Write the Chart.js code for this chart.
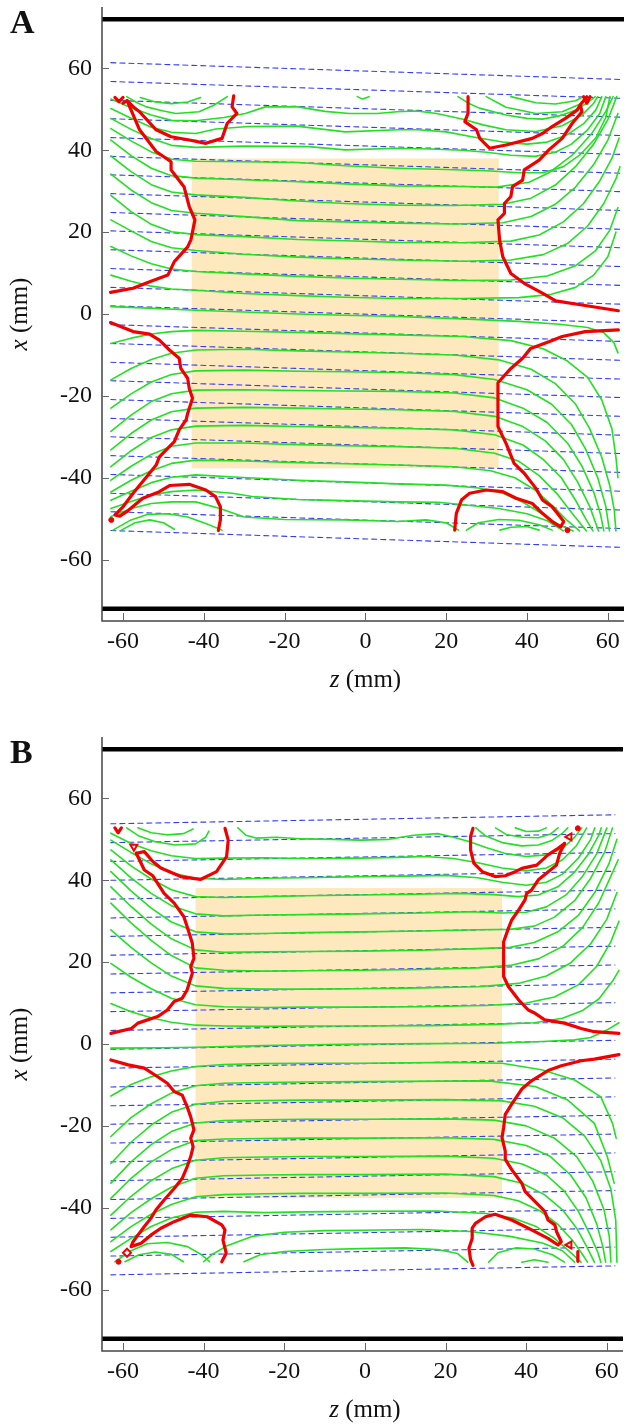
<!DOCTYPE html>
<html>
<head>
<meta charset="utf-8">
<script src="https://cdn.jsdelivr.net/npm/chart.js@4.4.1/dist/chart.umd.min.js"></script>
<style>
  html, body { margin: 0; padding: 0; background: #fff; }
  body { width: 629px; height: 1427px; position: relative; overflow: hidden; }
  .panel { position: absolute; left: 0; }
  #wrapA { top: 0; }
  #wrapB { top: 730px; }
</style>
</head>
<body>
<div class="panel" id="wrapA"><canvas id="chartA" width="629" height="697"></canvas></div>
<div class="panel" id="wrapB"><canvas id="chartB" width="629" height="697"></canvas></div>
<script>
// axes
const zTicks = [-60, -40, -20, 0, 20, 40, 60];
const xTicks = [-60, -40, -20, 0, 20, 40, 60];
const zRange = [-65.2, 64];
const xRange = [-75, 75];
const walls = [72, -72];

// sample block [zMin, zMax, xMin, xMax]
const blockA = [-43, 33, -37.7, 38];
const blockB = [-42, 34, -37.6, 38.1];

// reference lines: x at left end and at right end
const blueEndsA = [-63, 63];
const blueLeftA = [61.4, 56.8, 52.2, 47.7, 43.1, 38.5, 34.0, 29.4, 24.8, 20.3, 15.7, 11.1, 6.5, 2.0, -2.6, -7.2, -11.8, -16.3, -20.9, -25.5, -30.0, -34.6, -39.2, -43.8, -48.3, -52.9];
const blueRightA = [57.3, 52.7, 48.1, 43.6, 39.0, 34.4, 29.9, 25.3, 20.7, 16.2, 11.6, 7.0, 2.4, -2.1, -6.7, -11.3, -15.9, -20.4, -25.0, -29.6, -34.1, -38.7, -43.3, -47.9, -52.4, -57.0];
const blueEndsB = [-63, 62];
const blueLeftB = [53.8, 49.2, 44.6, 40.0, 35.4, 30.8, 26.3, 21.7, 17.1, 12.5, 7.9, 3.3, -1.3, -5.9, -10.5, -15.1, -19.6, -24.2, -28.8, -33.4, -38.0, -42.6, -47.2, -51.8, -56.4];
const blueRightB = [56.0, 51.4, 46.8, 42.2, 37.6, 33.0, 28.5, 23.9, 19.3, 14.7, 10.1, 5.5, 0.9, -3.7, -8.3, -12.9, -17.4, -22.0, -26.6, -31.2, -35.8, -40.4, -45.0, -49.6, -54.2];

// ---- panel A contours [z, x] ----
const arcsA = [
  [[-55.7,52.9],[-52,51.8],[-48,51.4],[-44,51.8],[-40.8,52.9]],
  [[-59.1,53.1],[-56.5,51.6],[-54.2,50.6],[-50,49.6],[-46.9,49.0],[-41.2,49.4],[-37.5,51],[-34.2,53.1]],
  [[-2,53.1],[-0.7,52.5],[0.9,53.1]],
  [[22.9,53.1],[25.5,51.5],[28.2,50.3],[34.8,48.6],[40,47.8],[43.8,47.6],[48,48.4],[52,49.8],[54.8,51.5],[56.9,53.1]],
  [[29.9,53.1],[34.8,50.5],[42.2,49.0],[48.7,49.4],[53.6,51.5],[55.7,53.1]],
  [[36,53.1],[42.2,51.6],[47,51.3],[52,52.1],[54,53.1]],
  [[-60.4,-52.8],[-57,-51.0],[-53.4,-50.3],[-50,-51.0],[-47.3,-52.6]],
  [[-62.5,-52.8],[-58,-50.3],[-54,-49.0],[-49,-48.8],[-44,-49.6],[-39.5,-51.2],[-35.5,-52.8]],
  [[25,-52.8],[28,-51.0],[33,-50.2],[38,-50.4],[43,-51.5],[46.2,-52.8]],
  [[33.3,-52.8],[36,-52.1],[40,-51.9],[43,-52.8]]
];
const upperA = [
  [[-63,52.5],[-58,50.4],[-53,48.6],[-48,47.3],[-42,47.2],[-35,48.0],[-29.7,49.0],[-24.8,50.6],[-16.7,50.6],[-10,49.5],[-4,49.0],[2.9,49.0],[7.8,49.4],[12.7,49.6],[17.6,49.0],[24.2,47.6],[29.1,46.2],[34.8,45.0],[42.2,44.6],[48.7,46.0],[53.6,48.6],[56.5,51.5],[57.5,53.1]],
  [[-63,50.2],[-58,47.8],[-53,45.6],[-48,44.4],[-42,44.1],[-37,45.2],[-29,45.8],[-17,45.9],[-5,44.5],[8,45.0],[13,45.0],[20,44.5],[27,43.2],[34,42.0],[40,41.5],[45,42],[50,43.8],[54,46.5],[57,49.8],[58.5,53.1]],
  [[-63,47.8],[-58,45.1],[-53,42.9],[-48,41.2],[-42,40.7],[-30,41.0],[-14,40.9],[-5,40.1],[8,40.5],[16,40.3],[24,40.0],[30,39.5],[36,38.8],[42,38.5],[47,39.5],[51,41.5],[55,45.0],[58,49.0],[59.5,53.1]],
  [[-63,45.3],[-58,42.3],[-53,39.6],[-48,37.8],[-42,37.3],[-30,37.2],[-16.7,37.0],[-5,36.2],[8,35.6],[20,35.3],[30,35.0],[38,34.5],[44,34.5],[49,36],[53,38.8],[57,43],[59.5,48],[60.5,53.1]],
  [[-63,42.5],[-58,38.7],[-53,35.6],[-48,33.8],[-42,33.2],[-30,32.8],[-16.7,32.3],[-5,31.8],[8,31.3],[20,31.2],[32.4,31.0],[40.5,32.2],[45.4,34.5],[51.2,38.8],[56.1,44.2],[59.5,49.5],[61.3,53.1]],
  [[-63,38.6],[-58,34.8],[-53,31.6],[-48,29.8],[-42,29.1],[-30,28.5],[-16.7,27.6],[-5,27.0],[8,26.6],[22,26.5],[34,26.8],[41,28.3],[47,31.5],[52,36],[56.5,41.5],[60,47.5],[62.2,53.1]],
  [[-63,34.2],[-58,30.3],[-53,27.2],[-48,25.3],[-42,24.6],[-30,23.8],[-16.7,22.8],[-5,22.5],[8,22.2],[22,22.0],[34,22.3],[41,23.8],[47,26.8],[52,31],[56.5,36.5],[60,42.5],[62.5,49]],
  [[-63,29.0],[-58,25.0],[-53,21.9],[-48,20.1],[-42,19.4],[-30,18.9],[-16.7,18.2],[-5,17.9],[8,17.5],[24,17.4],[36,17.8],[43,19.3],[49,22.5],[54,27],[58,32.5],[61,38],[62.8,43]],
  [[-63,23.0],[-58,20.3],[-53,17.7],[-48,16.2],[-42,15.5],[-30,14.6],[-16.7,13.9],[-5,13.5],[8,13.2],[24,12.9],[36,13.2],[44,14.5],[50,17.2],[55,21.5],[59,27],[62,33],[63,36]],
  [[-63,16.5],[-58,14.2],[-53,12.3],[-48,11.0],[-42,10.4],[-30,9.8],[-16.7,9.2],[-5,8.8],[8,8.5],[24,8.2],[36,8.3],[45,9.3],[52,11.8],[57,15.5],[60.5,20.5],[62.5,26]],
  [[-63,9.5],[-58,8.0],[-53,6.8],[-48,6.1],[-42,5.8],[-30,5.0],[-16.7,4.5],[-5,4.1],[8,3.8],[24,3.8],[38,4.0],[46,4.8],[52,6.5],[56.5,9.5],[60,14],[62,20]],
  [[-63,1.8],[-55,1.5],[-42,0.9],[-30,0.5],[-16.7,0.0],[-5,-0.3],[8,-0.6],[24,-1.2],[38,-1.8],[48,-2.5],[55,-3.3],[59,-4.6],[61.5,-7],[62.5,-9.5]]
];
const lowerA = [
  [[-63,-7.2],[-58,-5.9],[-53,-4.9],[-48,-4.3],[-42,-4.0],[-30,-4.2],[-16.7,-4.5],[-5,-4.8],[8,-5.1],[24,-5.5],[36,-6.5],[44,-8.5],[50,-11.5],[55,-15.5],[58.5,-21],[61,-28],[62,-35],[62.5,-40]],
  [[-63,-16.1],[-58,-13.3],[-53,-11.1],[-48,-9.6],[-42,-8.8],[-30,-8.6],[-16.7,-9.0],[-5,-9.3],[8,-9.6],[22,-10.0],[33,-11.2],[41,-13.5],[47,-17],[52,-22],[55.5,-28],[58.5,-35],[60.5,-42],[61.6,-48],[62,-53]],
  [[-63,-23.0],[-58,-19.5],[-53,-16.6],[-48,-14.8],[-42,-13.9],[-30,-13.7],[-16.7,-14.0],[-5,-14.1],[8,-14.3],[22,-14.8],[32,-16],[40,-18.5],[46,-22],[51,-27],[54.5,-33],[57.5,-40],[59.5,-47],[60.4,-53]],
  [[-63,-28.7],[-58,-24.7],[-53,-21.4],[-48,-19.5],[-42,-18.6],[-30,-18.5],[-16.7,-18.7],[-5,-18.8],[8,-18.9],[22,-19.3],[32,-20.5],[39,-23],[45,-26.5],[50,-31.5],[53.5,-37],[56.5,-43.5],[58.2,-49],[59,-53]],
  [[-63,-33.2],[-58,-29.2],[-53,-25.9],[-48,-23.9],[-42,-23.0],[-30,-22.8],[-16.7,-23.0],[-5,-23.2],[8,-23.4],[22,-23.8],[32,-25],[39,-27.5],[44.5,-31],[49,-35.5],[52.5,-41],[55.5,-47],[57.7,-53]],
  [[-63,-37.3],[-58,-33.4],[-53,-30.2],[-48,-28.3],[-42,-27.4],[-30,-27.2],[-16.7,-27.5],[-5,-27.7],[8,-27.9],[22,-28.3],[32,-29.5],[39,-32],[44,-35.5],[48.5,-40],[52,-45.5],[54.5,-50],[56.3,-53]],
  [[-63,-40.6],[-58,-37.2],[-53,-34.3],[-48,-32.3],[-42,-31.5],[-30,-31.5],[-16.7,-31.9],[-5,-32.2],[8,-32.4],[22,-32.8],[32,-34],[38,-36],[43,-39.5],[47.5,-44],[51,-48.5],[54.7,-53]],
  [[-63,-43.5],[-58,-40.6],[-53,-38.3],[-48,-36.5],[-42,-35.7],[-30,-35.9],[-16.7,-36.3],[-5,-36.6],[8,-36.9],[22,-37.3],[31,-38.3],[37,-40],[42,-43],[46.5,-47],[50,-50.5],[53,-53]],
  [[-63,-45.5],[-58,-43.3],[-53,-41.2],[-48,-39.9],[-42,-39.3],[-31.4,-39.9],[-16.7,-40.6],[-5,-41.0],[8,-41.5],[20,-41.8],[28,-42.5],[34,-43.8],[39,-46],[44,-49],[48,-51.5],[51.4,-53]],
  [[-63,-47.5],[-58,-45.8],[-53,-44.2],[-48,-43.4],[-42,-43.0],[-33,-43.8],[-28,-44.6],[-16.7,-45.3],[-5,-45.6],[8,-45.9],[18,-46.0],[26,-46.8],[33,-47.5],[40,-48.8],[45,-50.5],[49,-53]],
  [[-63,-49.5],[-58,-47.5],[-53,-46.3],[-48,-45.9],[-42,-45.9],[-36,-47.5],[-30,-49.6],[-20,-50.2],[-5,-50.3],[8,-50.7],[15,-50.3],[20,-51],[23,-52.8]]
];
const redA = [
  [[-60,51.5],[-59,52.1],[-57.1,50.3],[-55.9,49.4],[-51.8,45.0],[-48.1,43.3],[-43.6,42.5],[-39.5,41.7],[-35.5,42.9],[-34.2,46.6],[-31.8,49.0],[-33,50.6],[-32.6,53.3]],
  [[-59,52.1],[-55.9,45.0],[-51.8,39.7],[-48.1,37.2],[-48.1,35.2],[-44.9,31.1],[-43.6,26.2],[-42.2,23.0],[-43.2,18.1],[-44,16.4],[-47.3,12.8],[-48.9,9.5],[-53.4,7.9],[-57.5,6.3],[-63.1,5.3]],
  [[-62,52.9],[-61,51.9],[-60,52.9]],
  [[-63.1,-2.1],[-57.5,-4.3],[-53.4,-4.9],[-51,-6.4],[-48.5,-8.8],[-46.1,-10.8],[-45.7,-13.3],[-44,-15.7],[-43.6,-18.2],[-42.8,-20.6],[-44,-24.3],[-44.4,-25.9],[-46.1,-28.3],[-47.3,-31.2],[-49.3,-33.2],[-51,-34.9],[-51.8,-36.9],[-54.2,-39.8],[-57.5,-43.8],[-60,-47.1],[-62,-49.1],[-60.8,-49.4],[-59.1,-48.3],[-55.1,-45.0],[-51,-43.4],[-48.5,-41.9],[-43.6,-41.6],[-39.5,-43.0],[-37.1,-44.6],[-35.9,-47.1],[-35.9,-50.3],[-36.4,-52.9]],
  [[25.4,53.1],[25.4,49.0],[24.6,47.0],[27.5,45.0],[28.3,42.9],[30.7,40.5],[34.8,41.3],[41.3,42.9],[43.8,44.1],[46.2,45.8],[49.5,47.8],[52.4,49.8],[53.2,51.1],[54.8,53.1]],
  [[54,53.1],[54.8,51.5],[55.6,53.1]],
  [[53.2,51.1],[53.6,49.4],[51.2,46.6],[48.7,42.9],[45.4,40.1],[43.0,37.6],[39.3,35.2],[38.9,32.7],[36.4,31.1],[36.0,28.7],[34.4,27.0],[34.4,24.6],[32.8,23.0],[33.2,18.1],[34.0,14.0],[36.0,9.9],[39.3,7.5],[43.8,5.1],[47.1,3.2],[53.6,2.2],[62.6,0.8]],
  [[62.6,-3.9],[54.4,-4.3],[48.7,-5.5],[45.4,-6.8],[40.9,-8.4],[38.9,-10.8],[36.0,-13.3],[32.8,-16.8],[32.8,-22.6],[32.8,-27.5],[34.8,-31.6],[36.8,-36.5],[39.3,-38.9],[42.2,-42.6],[43.8,-45.4],[46.2,-47.1],[47.5,-48.7],[49.1,-50.7],[48.3,-52.0],[46.2,-50.7],[43.8,-48.7],[41.3,-46.3],[37.3,-45.0],[34.0,-43.4],[29.9,-43.0],[25.8,-43.8],[23.8,-45.4],[22.5,-48.7],[22.1,-52.8]]
];
const redDotsA = [[-62.9,-50.3],[50,-52.8]];

// ---- panel B contours [z, x] ----
const arcsB = [
  [[-56.3,52.8],[-53,51.6],[-49,51.1],[-45,51.4],[-42.6,52.5]],
  [[-59.1,52.8],[-56,50.8],[-52,49.4],[-47,48.6],[-42,48.9],[-39.5,50.5],[-38.7,52.0]],
  [[-59.5,-53.2],[-56,-51.5],[-52,-50.8],[-48,-51.4],[-45,-53.2]],
  [[-62,-53.2],[-58,-50.5],[-54,-48.8],[-49,-48.5],[-44,-49.5],[-40.5,-51.5],[-38.5,-53.2]],
  [[27.5,52.8],[30,50.8],[34,49.2],[38.9,48.4],[43,48.6],[46.5,49.8],[49,51.5],[50.3,52.8]],
  [[32.4,52.8],[35,51.2],[39,50.5],[43,50.4],[46,51.3],[47.9,52.8]],
  [[37.3,52.8],[40,51.9],[43,52.0],[45,52.8]],
  [[30.7,-53.3],[33,-51.0],[37.5,-49.8],[42,-50.1],[46.5,-51.5],[49.5,-53.3]],
  [[38.9,-53.3],[42,-52.7],[45.4,-53.3]]
];
const upperB = [
  [[-31.5,52.8],[-29.5,51],[-27,50.3],[-22,50.5],[-15,50.1],[-8,50.0],[-1,49.8],[6,50.0],[12,51.0],[18,51.4],[22,50.5],[26,49.4],[30,48.0],[35,46.5],[40,45.8],[45,46.2],[49,47.8],[52,50.5],[53.8,52.8]],
  [[-63,51.5],[-58,49.0],[-53,47.2],[-48,46.0],[-42,45.3],[-35,45.4],[-25,45.5],[-15,45.3],[-1,45.4],[8,45.6],[15,45.8],[22,45.3],[28,44.3],[34,43.0],[40,42.3],[45,43.0],[49,45.0],[52.5,48.5],[55,52.8]],
  [[-63,49.8],[-58,46.8],[-53,44.0],[-48,41.8],[-42,40.5],[-35,40.2],[-25,40.5],[-15,40.6],[-1,40.9],[10,41.0],[20,41.2],[28,40.6],[34,39.5],[40,38.8],[45,39.5],[49,41.5],[53,45.5],[56,50],[57,52.8]],
  [[-63,47.4],[-58,43.5],[-53,40.3],[-48,37.7],[-42,36.0],[-35,35.8],[-25,36.0],[-15,36.2],[-1,36.4],[12,36.6],[24,36.8],[32,36.5],[38,36.0],[43,36.4],[48,38.5],[52,42.0],[55.5,46.5],[58,51],[58.6,52.8]],
  [[-63,45.0],[-58,40.6],[-53,36.8],[-48,33.8],[-42,31.8],[-35,31.3],[-25,31.5],[-15,31.6],[-1,31.8],[14,32.0],[26,32.3],[34,32.0],[40,32.2],[45,33.5],[50,36.5],[54,41],[57.5,46.5],[60,52.8]],
  [[-63,42.1],[-58,37.4],[-53,33.2],[-48,29.8],[-42,27.4],[-35,26.9],[-25,27.0],[-15,27.2],[-1,27.4],[14,27.6],[28,27.9],[36,28.0],[42,28.8],[47,31.0],[52,35],[56,40.5],[59.5,47],[61.4,52.8]],
  [[-63,38.4],[-58,33.6],[-53,29.3],[-48,25.7],[-42,23.0],[-35,22.4],[-25,22.5],[-15,22.6],[-1,22.7],[14,22.9],[28,23.3],[36,23.6],[42,24.8],[48,27.5],[53,31.5],[57,37],[60.5,44],[62.5,50]],
  [[-63,34.4],[-58,29.6],[-53,25.3],[-48,21.6],[-42,18.6],[-35,18.0],[-25,17.8],[-15,17.9],[-1,18.0],[14,18.2],[28,18.6],[36,19.2],[43,20.8],[49,23.8],[54,28.5],[58,34.5],[61,41],[62.8,45]],
  [[-63,27.9],[-58,23.6],[-53,19.8],[-48,16.6],[-42,14.2],[-35,13.6],[-25,13.4],[-15,13.4],[-1,13.5],[14,13.7],[28,14.0],[38,14.8],[45,16.6],[51,19.8],[56,24.5],[60,30.5],[62.5,37]],
  [[-63,19.7],[-58,16.3],[-53,13.5],[-48,11.2],[-42,9.6],[-35,9.1],[-25,8.9],[-15,9.0],[-1,9.0],[14,9.1],[30,9.4],[40,10.0],[47,11.5],[53,14.5],[57.5,19],[61,25],[63,30]],
  [[-63,9.9],[-58,7.9],[-53,6.4],[-48,5.3],[-42,4.6],[-35,4.4],[-25,4.3],[-15,4.4],[-1,4.4],[16,4.5],[32,4.8],[42,5.2],[49,6.3],[54,8.2],[58,11],[61.5,15.5],[63,18]],
  [[-63,-1.0],[-50,-0.9],[-42,-0.8],[-25,-0.4],[-1,0.0],[16,0.1],[32,0.2],[44,0.6],[52,1.0],[56,1.6],[60,3.4],[63,5.2]]
];
const lowerB = [
  [[-63,-12.7],[-58,-9.9],[-53,-8.0],[-48,-6.6],[-42,-5.5],[-35,-5.0],[-25,-4.8],[-15,-4.7],[-1,-4.7],[22.5,-4.5],[34,-4.7],[43.8,-6.3],[52,-8.8],[58.5,-12.9],[61.4,-19.4],[62.3,-23]],
  [[-63,-22.6],[-58,-18.0],[-53,-14.6],[-48,-12.0],[-42,-10.2],[-35,-9.6],[-25,-9.4],[-15,-9.3],[-1,-9.2],[30.7,-9.0],[42.2,-10.4],[50.3,-13.7],[56.9,-19.4],[60.1,-27.5],[61.8,-34]],
  [[-63,-29.2],[-58,-24.0],[-53,-19.8],[-48,-16.7],[-42,-14.7],[-35,-14.0],[-25,-13.8],[-15,-13.7],[-1,-13.7],[20,-13.6],[34,-13.9],[42,-15.2],[49,-18],[54.5,-22.5],[58.5,-28.5],[61,-35.5],[62.2,-43],[62.5,-53.3]],
  [[-63,-34.0],[-58,-28.8],[-53,-24.6],[-48,-21.4],[-42,-19.3],[-35,-18.7],[-25,-18.5],[-15,-18.4],[-1,-18.4],[20,-18.3],[32,-18.6],[40,-20],[47,-23],[52.5,-27.5],[56.5,-33.5],[59.3,-40.5],[60.6,-47],[61,-53.3]],
  [[-63,-37.7],[-58,-32.8],[-53,-28.8],[-48,-25.8],[-42,-23.6],[-35,-23.2],[-25,-23.1],[-15,-23.0],[-1,-23.0],[20,-22.9],[32,-23.3],[40,-24.8],[46,-27.5],[51,-32],[54.8,-37.5],[57.5,-44],[59,-49.5],[59.7,-53.3]],
  [[-63,-41.8],[-58,-37.2],[-53,-33.4],[-48,-30.5],[-42,-28.4],[-35,-27.8],[-25,-27.6],[-15,-27.5],[-1,-27.5],[20,-27.4],[32,-27.9],[39,-29.3],[45,-32],[49.5,-36],[53,-41],[55.8,-46.5],[57.8,-51],[58.5,-53.3]],
  [[-63,-45.4],[-58,-41.2],[-53,-37.8],[-48,-35.0],[-42,-32.8],[-35,-32.2],[-25,-32.0],[-15,-31.9],[-1,-31.9],[20,-31.8],[32,-32.4],[39,-34],[44.5,-36.8],[49,-40.5],[52.5,-45],[55,-49.5],[56.9,-53.3]],
  [[-63,-48.3],[-58,-44.6],[-53,-41.6],[-48,-39.2],[-42,-37.3],[-35,-36.8],[-25,-36.6],[-15,-36.5],[-1,-36.5],[20,-36.4],[32,-37.0],[38,-38.3],[43.5,-40.8],[48,-44.2],[51.5,-48],[54,-51.5],[55.2,-53.3]],
  [[-63,-50.7],[-58,-47.5],[-53,-44.6],[-48,-42.5],[-42,-41.1],[-35,-40.9],[-25,-41.2],[-15,-41.0],[-1,-40.9],[18,-40.8],[30,-41.4],[37,-42.6],[42.5,-44.6],[47,-47.5],[50.5,-50.5],[53.6,-53.3]],
  [[-40,-53.2],[-38,-51.5],[-34,-49.2],[-28,-47.0],[-20,-46.0],[-10,-45.6],[-1,-45.5],[14,-45.3],[26,-45.8],[36,-47.0],[44,-48.6],[49,-50.5],[52,-53.3]],
  [[-30,-53.2],[-26,-51.5],[-20,-50.7],[-10,-50.2],[-1,-50.0],[10,-49.8],[18,-50.2],[23,-51.2],[25.5,-53.3]]
];
const redB = [
  [[-62,52.8],[-61.2,51.6],[-60.4,52.8]],
  [[-56.7,46.6],[-54.7,47.0],[-52.6,44.6],[-50.6,43.0],[-45.7,40.9],[-40.8,40.2],[-36.8,42.1],[-34.3,45.8],[-33.9,49.8],[-34.7,52.7]],
  [[-56.7,46.6],[-54.7,42.5],[-52.6,41.1],[-49.8,36.8],[-47.3,34.4],[-44.9,31.1],[-44.1,28.7],[-42.8,24.6],[-42.4,20.9],[-43.2,18.9],[-42.8,17.3],[-44.1,13.2],[-45.3,11.2],[-47.3,10.4],[-49,8.3],[-51.4,6.7],[-56.3,5.1],[-57.9,3.8],[-63,2.6]],
  [[-63,-3.9],[-58.7,-5.1],[-54.7,-5.9],[-51.4,-8],[-49,-9.6],[-47.3,-11.6],[-45.3,-12.5],[-44.1,-15.3],[-43.2,-17.8],[-42.4,-21.0],[-43.2,-23.0],[-42.6,-25.1],[-43.2,-27.5],[-44.1,-30.0],[-45.3,-32.8],[-47.3,-35.3],[-49.8,-38.1],[-51.8,-40.5],[-53.1,-42.6],[-54.7,-44.6],[-56.3,-46.7],[-57.5,-48.3],[-58,-49.5],[-55.5,-48.7],[-53.1,-46.7],[-50.6,-45.0],[-47.3,-43.4],[-43.2,-41.8],[-39.1,-42.2],[-35.5,-44.2],[-34.7,-45.4],[-35.2,-47.9],[-34.4,-51.1],[-35.5,-53.2]],
  [[49.5,49.0],[47.9,47.8],[45.4,46.2],[42.6,43.7],[38.9,42.9],[37.3,42.1],[34.8,41.1],[32.3,40.9],[29.1,42.1],[27.0,44.2],[26.2,47.4],[26.2,50.7],[26.8,52.7]],
  [[49.5,49.0],[48.3,46.6],[47.5,43.7],[45,41.7],[43,40.1],[41.3,37.6],[40.1,36.8],[39.7,35.2],[38.1,32.7],[36.4,30.3],[35.6,28.3],[34.4,25.0],[34.4,19.7],[34.4,16.5],[35.6,14.0],[38.1,10.8],[40.5,8.3],[42.2,7.5],[44.6,5.9],[49.5,5.1],[53.6,3.8],[56.9,3.0],[63,2.6]],
  [[63,-2.6],[56.9,-3.7],[53.6,-4.1],[48.7,-5.3],[45.4,-6.5],[41.3,-9.0],[38.9,-11.0],[36.4,-14.7],[34.8,-17.2],[34.4,-20.4],[34.0,-22.9],[34.8,-26.2],[34.8,-28.2],[36.4,-30.7],[38.9,-34.0],[39.7,-36.0],[42.2,-38.5],[44.6,-40.9],[45.4,-43.0],[47.1,-44.2],[47.5,-45.8],[48.7,-48.3],[47.9,-49.1],[45.4,-47.5],[40.5,-45.0],[36.4,-43.0],[32.3,-41.6],[29.9,-42.2],[27.4,-43.8],[26.6,-45.0],[26.6,-47.5],[25.8,-49.9],[26.2,-52.7],[26.8,-54.1]],
  [[52.8,-50.7],[52.8,-53.1]]
];
const redDotsB = [[-61.1,-53.2],[52.8,52.7]];
// open markers: position, shape, rotation
const redMarksB = [[-57.3,48.2],[50.7,50.6],[50.7,-49.1],[-59,-51]];
const markShapesB = ["triangle", "triangle", "triangle", "rect"];
const markTurnsB = [180, 270, 270, 45];

const GREEN = "#22e022";
const RED = "#f20000";
const BLUE = "#3440ee";
const serif = "'Liberation Serif', 'Times New Roman', serif";

function lineSet(pts, color, width, dash, order) {
  return {
    data: pts.map((p) => ({ x: p[0], y: p[1] })),
    showLine: true,
    borderColor: color,
    borderWidth: width,
    borderDash: dash || [],
    borderCapStyle: "round",
    borderJoinStyle: "round",
    pointRadius: 0,
    fill: false,
    tension: 0,
    order: order,
  };
}

function buildSets(blueEnds, blueLeft, blueRight, greens, reds, dots, marks) {
  const sets = [];
  walls.forEach((w) => {
    sets.push(lineSet([[zRange[0], w], [zRange[1], w]], "#000", 4.5, null, 4));
  });
  blueLeft.forEach((v, i) => {
    sets.push(lineSet([[blueEnds[0], v], [blueEnds[1], blueRight[i]]], BLUE, 1.1, [5, 4], 3));
  });
  greens.forEach((g) => sets.push(lineSet(g, GREEN, 1.6, null, 2)));
  reds.forEach((r) => sets.push(lineSet(r, RED, 3.2, null, 1)));
  sets.push({
    data: dots.map((p) => ({ x: p[0], y: p[1] })),
    pointRadius: 2.5,
    pointBackgroundColor: RED,
    pointBorderColor: RED,
    showLine: false,
    order: 0,
  });
  if (marks) {
    sets.push({
      data: marks.map((p) => ({ x: p[0], y: p[1] })),
      pointStyle: markShapesB,
      rotation: markTurnsB,
      pointRadius: 4,
      pointBorderWidth: 2,
      pointBackgroundColor: "#fff",
      pointBorderColor: RED,
      showLine: false,
      order: 0,
    });
  }
  return sets;
}

// block, axis lines, inward ticks, tick labels, titles, panel letter
const decor = {
  id: "decor",
  beforeDatasetsDraw(chart, args, opts) {
    const { ctx } = chart;
    const sx = chart.scales.x;
    const sy = chart.scales.y;
    const b = opts.block;
    const x0 = sx.getPixelForValue(b[0]);
    const x1 = sx.getPixelForValue(b[1]);
    const y0 = sy.getPixelForValue(b[3]);
    const y1 = sy.getPixelForValue(b[2]);
    ctx.save();
    ctx.fillStyle = "#fde9bd";
    ctx.fillRect(x0, y0, x1 - x0, y1 - y0);
    ctx.restore();
  },
  afterDraw(chart, args, opts) {
    const { ctx, chartArea } = chart;
    const sx = chart.scales.x;
    const sy = chart.scales.y;
    ctx.save();
    ctx.strokeStyle = "#444";
    ctx.lineWidth = 1.5;
    ctx.beginPath();
    ctx.moveTo(chartArea.left, chartArea.top);
    ctx.lineTo(chartArea.left, chartArea.bottom);
    ctx.lineTo(chartArea.right, chartArea.bottom);
    ctx.stroke();
    ctx.lineWidth = 1;
    ctx.strokeStyle = "#666";
    zTicks.forEach((t) => {
      const px = Math.round(sx.getPixelForValue(t)) + 0.5;
      ctx.beginPath();
      ctx.moveTo(px, chartArea.bottom);
      ctx.lineTo(px, chartArea.bottom - 8);
      ctx.stroke();
    });
    xTicks.forEach((t) => {
      const py = Math.round(sy.getPixelForValue(t)) + 0.5;
      ctx.beginPath();
      ctx.moveTo(chartArea.left, py);
      ctx.lineTo(chartArea.left + 7, py);
      ctx.stroke();
    });

    // tick labels
    ctx.fillStyle = "#111";
    ctx.font = "24px " + serif;
    ctx.textAlign = "center";
    ctx.textBaseline = "top";
    zTicks.forEach((t) => ctx.fillText(String(t), sx.getPixelForValue(t), chartArea.bottom + 9));
    ctx.textAlign = "right";
    ctx.textBaseline = "middle";
    xTicks.forEach((t) => ctx.fillText(String(t), chartArea.left - 10, sy.getPixelForValue(t)));

    // axis titles with italic variable
    ctx.textAlign = "left";
    const parts = (v) => [
      { text: v, font: "italic 25px " + serif },
      { text: " (mm)", font: "25px " + serif },
    ];
    const drawMixed = (list, cx, cy) => {
      let total = 0;
      list.forEach((p) => { ctx.font = p.font; total += ctx.measureText(p.text).width; });
      let x = cx - total / 2;
      list.forEach((p) => {
        ctx.font = p.font;
        ctx.fillText(p.text, x, cy);
        x += ctx.measureText(p.text).width;
      });
    };
    drawMixed(parts("z"), sx.getPixelForValue(0), chartArea.bottom + 59);
    ctx.save();
    ctx.translate(20, sy.getPixelForValue(0));
    ctx.rotate(-Math.PI / 2);
    drawMixed(parts("x"), 0, 0);
    ctx.restore();

    ctx.font = "bold 34px " + serif;
    ctx.textBaseline = "top";
    ctx.fillText(opts.letter, 10, 7);
    ctx.restore();
  },
};

function makeChart(id, letter, block, datasets) {
  return new Chart(document.getElementById(id), {
    type: "scatter",
    data: { datasets: datasets },
    plugins: [decor],
    options: {
      responsive: false,
      animation: false,
      events: [],
      layout: { padding: { top: 7, left: 0, right: 0, bottom: 0 } },
      plugins: {
        legend: { display: false },
        tooltip: { enabled: false },
        decor: { letter: letter, block: block },
      },
      scales: {
        x: {
          type: "linear",
          min: zRange[0],
          max: zRange[1],
          afterFit: (s) => { s.height = 76; },
          grid: { display: false, drawTicks: false },
          border: { display: false },
          ticks: { display: false },
        },
        y: {
          type: "linear",
          min: xRange[0],
          max: xRange[1],
          afterFit: (s) => { s.width = 102; },
          grid: { display: false, drawTicks: false },
          border: { display: false },
          ticks: { display: false },
        },
      },
    },
  });
}

makeChart("chartA", "A", blockA,
  buildSets(blueEndsA, blueLeftA, blueRightA, arcsA.concat(upperA, lowerA), redA, redDotsA, null));
makeChart("chartB", "B", blockB,
  buildSets(blueEndsB, blueLeftB, blueRightB, arcsB.concat(upperB, lowerB), redB, redDotsB, redMarksB));
</script>
</body>
</html>
